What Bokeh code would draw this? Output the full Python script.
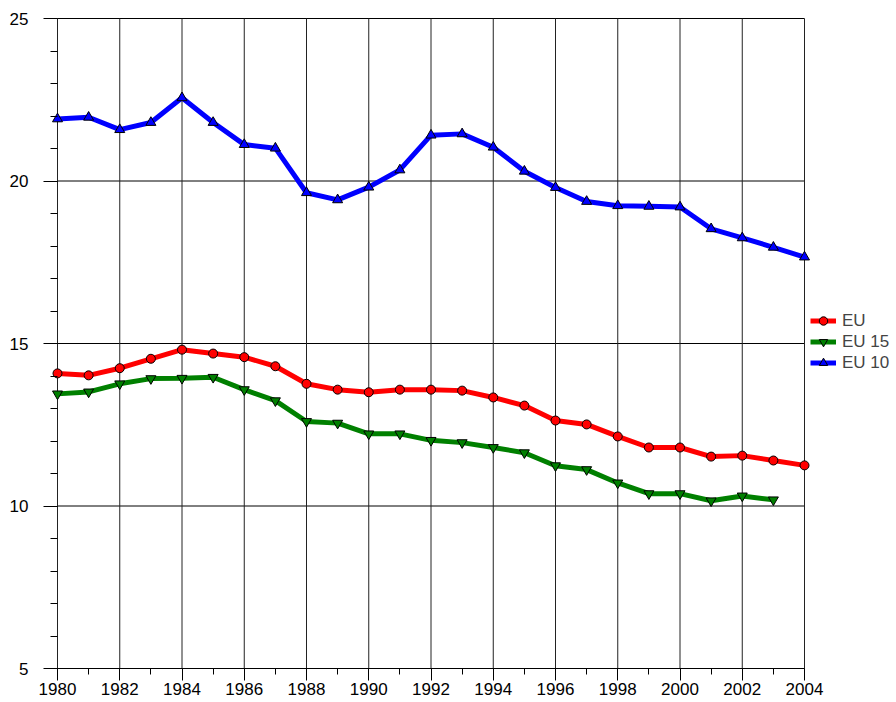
from bokeh.plotting import figure
from bokeh.models import Range1d, SingleIntervalTicker, Legend, LegendItem
from bokeh.embed import file_html
from bokeh.resources import INLINE

years = list(range(1980, 2005))
eu = [14.08, 14.02, 14.24, 14.53, 14.81, 14.69, 14.58, 14.30, 13.76, 13.58, 13.50, 13.58,
      13.58, 13.55, 13.34, 13.09, 12.63, 12.51, 12.14, 11.80, 11.80, 11.52, 11.55, 11.40, 11.25]
eu15_years = list(range(1980, 2004))
eu15 = [13.45, 13.51, 13.76, 13.92, 13.93, 13.96, 13.58, 13.24, 12.60, 12.55, 12.22, 12.22,
        12.02, 11.95, 11.80, 11.64, 11.24, 11.12, 10.71, 10.38, 10.38, 10.16, 10.31, 10.19]
eu10 = [21.91, 21.96, 21.58, 21.80, 22.56, 21.80, 21.12, 21.01, 19.64, 19.42, 19.81, 20.34,
        21.41, 21.45, 21.04, 20.30, 19.80, 19.37, 19.24, 19.22, 19.20, 18.53, 18.25, 17.96, 17.66]
y_ticks = [5, 10, 15, 20, 25]
x_ticks = list(range(1980, 2005, 2))
series_names = ["EU", "EU 15", "EU 10"]

# layout (pixels)
W, H = 896, 702
AX_L, AX_R, AX_T, AX_B = 57, 804, 18, 668   # positions of 1980, 2004, 25, 5
L, R, T, B = 41, 2, 16, 34
x_px = (AX_R - AX_L) / 24.0
y_px = (AX_B - AX_T) / 20.0
x0 = years[0] - (AX_L - L) / x_px
x1 = years[-1] + ((W - R) - AX_R) / x_px
y0 = y_ticks[0]
y1 = y_ticks[-1] + (AX_T - T) / y_px

p = figure(width=W, height=H, output_backend="svg", toolbar_location=None,
           x_range=Range1d(x0, x1), y_range=Range1d(y0, y1),
           min_border_left=L, min_border_right=R, min_border_top=T, min_border_bottom=B)
p.outline_line_color = None
p.xgrid.visible = False
p.ygrid.visible = False

# grid lines
p.segment(x0=[years[0]] * len(y_ticks), x1=[years[-1]] * len(y_ticks), y0=y_ticks, y1=y_ticks,
          line_color="black", line_width=1)
p.segment(x0=x_ticks, x1=x_ticks, y0=[y_ticks[0]] * len(x_ticks), y1=[y_ticks[-1]] * len(x_ticks),
          line_color="#222222", line_width=1)

font = "Liberation Sans"
for ax in p.xaxis:
    ax.ticker = SingleIntervalTicker(interval=2, num_minor_ticks=2)
    ax.bounds = (years[0], years[-1])
    ax.major_tick_out = 12
    ax.major_tick_in = 0
    ax.minor_tick_out = 6
    ax.minor_tick_in = 0
    ax.major_label_standoff = 2
    ax.major_label_text_font = font
    ax.major_label_text_font_size = "17px"
    ax.major_label_text_color = "black"
    ax.axis_line_color = "black"
pad = AX_L - L
for ax in p.yaxis:
    ax.ticker = SingleIntervalTicker(interval=5, num_minor_ticks=5)
    ax.bounds = (y_ticks[0], y_ticks[-1])
    ax.axis_line_color = None
    ax.major_tick_in = pad
    ax.major_tick_out = -2
    ax.minor_tick_in = pad
    ax.minor_tick_out = -9
    ax.major_tick_line_color = "black"
    ax.minor_tick_line_color = "black"
    ax.major_label_standoff = 15
    ax.major_label_text_font = font
    ax.major_label_text_font_size = "17px"
    ax.major_label_text_color = "black"

l1 = p.line(years, eu, line_color="red", line_width=5)
m1 = p.scatter(years, eu, marker="circle", size=9, fill_color="red", line_color="black", line_width=1)
l2 = p.line(eu15_years, eu15, line_color="green", line_width=5)
m2 = p.scatter(eu15_years, eu15, marker="inverted_triangle", size=10, fill_color="green", line_color="black", line_width=1)
l3 = p.line(years, eu10, line_color="blue", line_width=5)
m3 = p.scatter(years, eu10, marker="triangle", size=10, fill_color="blue", line_color="black", line_width=1)

legend = Legend(items=[LegendItem(label=series_names[0], renderers=[l1, m1]),
                       LegendItem(label=series_names[1], renderers=[l2, m2]),
                       LegendItem(label=series_names[2], renderers=[l3, m3])],
                location=(810 - L, AX_B - 373),
                padding=0, margin=0, spacing=0,
                glyph_width=26, glyph_height=21, label_height=21, label_standoff=6,
                label_text_font=font, label_text_font_size="17px",
                border_line_color=None, background_fill_alpha=0)
p.add_layout(legend, "center")

open("out.html", "w").write(file_html(p, INLINE))
